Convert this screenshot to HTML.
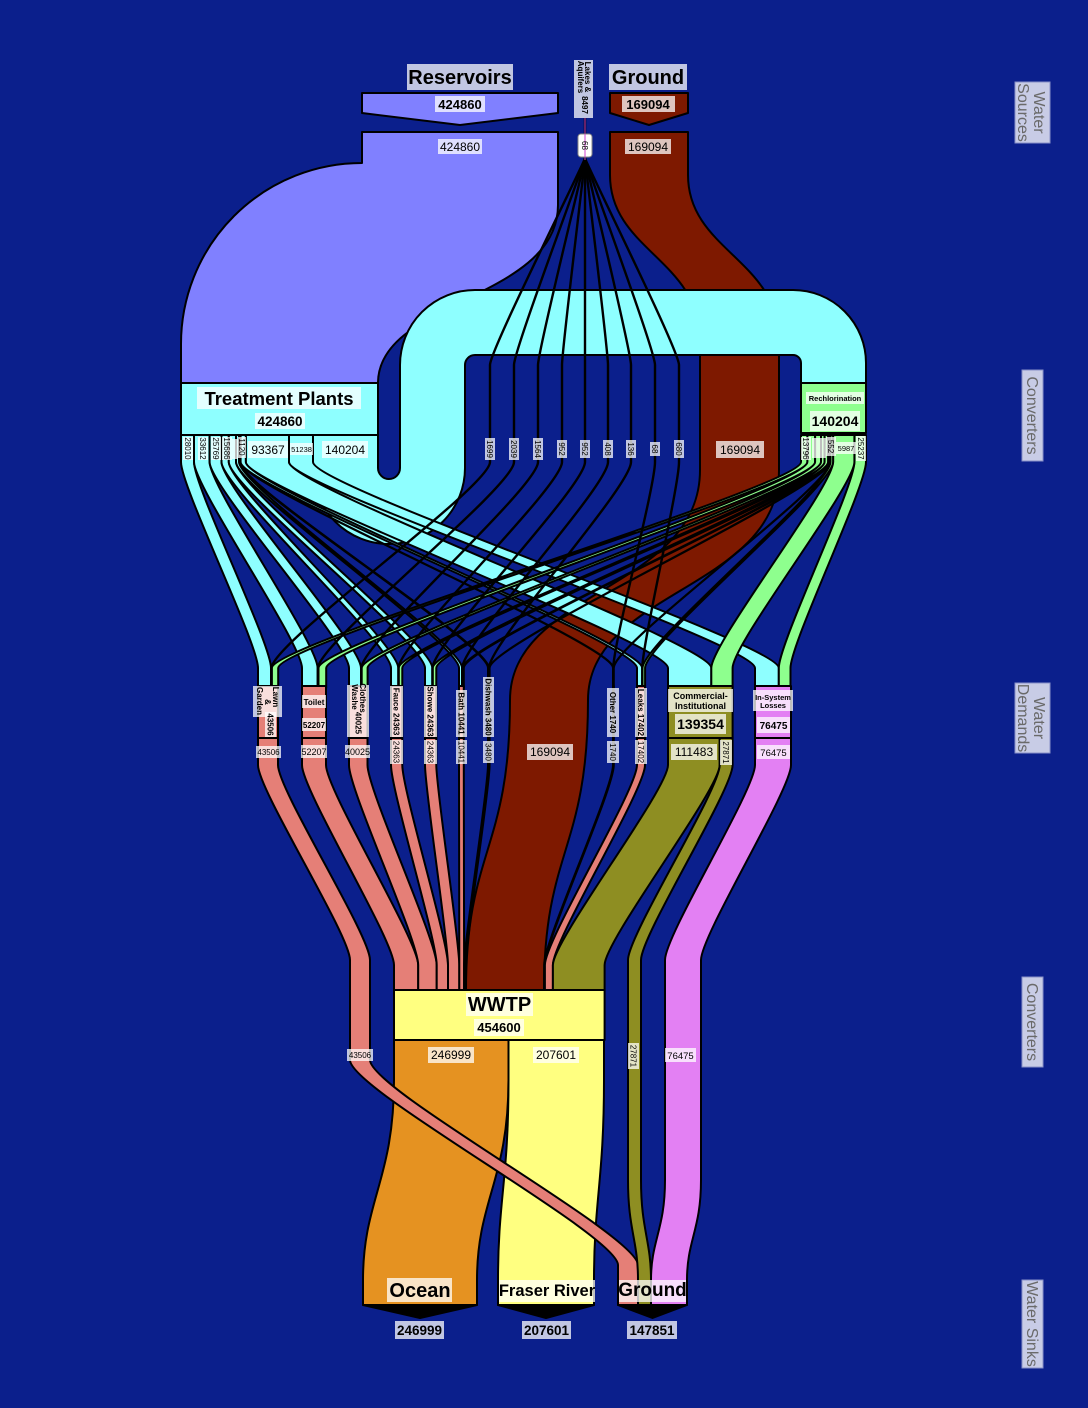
<!DOCTYPE html>
<html><head><meta charset="utf-8"><style>
html,body{margin:0;padding:0;background:#0b1f8c;}
svg{display:block;}
text{font-family:"Liberation Sans",Arial,sans-serif;}
.b{font-weight:bold;}
.lb{fill:#fff;fill-opacity:.75;stroke:none;}
.r{font-size:8px;text-anchor:middle;}
.ax{fill:#c8cce6;stroke:#8890c8;stroke-width:1;}
.axt{fill:#6a6a6a;font-size:16px;text-anchor:middle;}
</style></head><body>
<svg width="1088" height="1408" viewBox="0 0 1088 1408" xmlns="http://www.w3.org/2000/svg">
<rect width="1088" height="1408" fill="#0b1f8c"/>

<g stroke="#000" stroke-width="2" stroke-linejoin="round">
 <path fill="#8080ff" d="M362,132 H558 V205 C558,300 378,300 378,383 H181 V344 A181,181 0 0 1 362,163 Z"/>
 <path fill="#7e1900" d="M610,132 V175 C610,250 700,260 700,340 V470 C700,590 510,590 510,700 C510,850 466,850 466,990 H544 C544,850 588,850 588,700 C588,590 779,590 779,470 V340 C779,260 688,250 688,175 V132 Z"/>
 <path fill="#8effff" d="M313,435 V468 A76,76 0 0 0 465,468 V365 A10,10 0 0 1 475,355 H793 A8,8 0 0 1 801,363 V383 H866 V363 A73,73 0 0 0 793,290 H475 A75,75 0 0 0 400,365 V468 A11,11 0 0 1 378,468 V435 Z"/>

 <g fill="#8effff">
 <path d="M245.8,435 V462 C245.8,487 668,643 668,668 V688 H711.3 V668 C711.3,643 289,487 289,462 V435 Z"/>
 <path d="M289,435 V462 C289,487 755,643 755,668 V688 H778.8 V668 C778.8,643 313,487 313,462 V435 Z"/>
 <path d="M181,435 V462 C181,487 258,643 258,668 V688 H271 V668 C271,643 194,487 194,462 V435 Z"/>
 <path d="M194,435 V462 C194,487 302,643 302,668 V688 H317.6 V668 C317.6,643 209.6,487 209.6,462 V435 Z"/>
 <path d="M209.6,435 V462 C209.6,487 349,643 349,668 V688 H361 V668 C361,643 221.5,487 221.5,462 V435 Z"/>
 <path d="M221.5,435 V462 C221.5,487 391,643 391,668 V688 H398.3 V668 C398.3,643 228.8,487 228.8,462 V435 Z"/>
 <path d="M228.8,435 V462 C228.8,487 425,643 425,668 V688 H432.3 V668 C432.3,643 236,487 236,462 V435 Z"/>
 <path d="M236,435 V462 C236,487 459,643 459,668 V688 H462.1 V668 C462.1,643 239.1,487 239.1,462 V435 Z"/>
 <path d="M239.1,435 V462 C239.1,487 488,643 488,668 V688 H489 V668 C489,643 240.1,487 240.1,462 V435 Z"/>
 <path d="M240.1,435 V462 C240.1,487 613,643 613,668 V688 H613.5 V668 C613.5,643 240.6,487 240.6,462 V435 Z"/>
 <path d="M240.6,435 V462 C240.6,487 637,643 637,668 V688 H642.2 V668 C642.2,643 245.8,487 245.8,462 V435 Z"/>
 </g>

 <g fill="#8eff8e">
 <path d="M854.4,435 V462 C854.4,487 778.8,643 778.8,668 V688 H790.5 V668 C790.5,643 866,487 866,462 V435 Z"/>
 <path d="M833.1,435 V462 C833.1,487 711.3,643 711.3,668 V688 H732.6 V668 C732.6,643 854.4,487 854.4,462 V435 Z"/>
 <path d="M801,435 V462 C801,487 271.8,643 271.8,668 V688 H278.2 V668 C278.2,643 807.4,487 807.4,462 V435 Z"/>
 <path d="M807.4,435 V462 C807.4,487 318.5,643 318.5,668 V688 H326.2 V668 C326.2,643 815.1,487 815.1,462 V435 Z"/>
 <path d="M815.1,435 V462 C815.1,487 361.7,643 361.7,668 V688 H367.6 V668 C367.6,643 821,487 821,462 V435 Z"/>
 <path d="M821,435 V462 C821,487 398.7,643 398.7,668 V688 H402.3 V668 C402.3,643 824.6,487 824.6,462 V435 Z"/>
 <path d="M824.6,435 V462 C824.6,487 432.7,643 432.7,668 V688 H436.3 V668 C436.3,643 828.2,487 828.2,462 V435 Z"/>
 <path d="M828.2,435 V462 C828.2,487 462.3,643 462.3,668 V688 H463.8 V668 C463.8,643 829.7,487 829.7,462 V435 Z"/>
 <path d="M829.7,435 V462 C829.7,487 489.1,643 489.1,668 V688 H489.6 V668 C489.6,643 830.2,487 830.2,462 V435 Z"/>
 <path d="M830.2,435 V462 C830.2,487 613.5,643 613.5,668 V688 H613.8 V668 C613.8,643 830.5,487 830.5,462 V435 Z"/>
 <path d="M830.5,435 V462 C830.5,487 642.5,643 642.5,668 V688 H645.1 V668 C645.1,643 833.1,487 833.1,462 V435 Z"/>
 </g>
</g>

<g fill="none" stroke="#000" stroke-width="2.4" stroke-linejoin="round">
 <path d="M585,158 C585,162 490,350 490,365 V462 C490,487 271.5,643 271.5,668 V688"/>
 <path d="M585,158 C585,162 514,350 514,365 V462 C514,487 318,643 318,668 V688"/>
 <path d="M585,158 C585,162 538,350 538,365 V462 C538,487 361.3,643 361.3,668 V688"/>
 <path d="M585,158 C585,162 562,350 562,365 V462 C562,487 398.5,643 398.5,668 V688"/>
 <path d="M585,158 V462 C585,487 432.5,643 432.5,668 V688"/>
 <path d="M585,158 C585,162 608,350 608,365 V462 C608,487 462.2,643 462.2,668 V688"/>
 <path d="M585,158 C585,162 631,350 631,365 V462 C631,487 489,643 489,668 V688"/>
 <path d="M585,158 C585,162 655,350 655,365 V462 C655,487 613.3,643 613.3,668 V688"/>
 <path d="M585,158 C585,162 679,350 679,365 V462 C679,487 642.3,643 642.3,668 V688"/>
 <path d="M585,118 V160"/>
</g>
<path d="M585,118 V160" stroke="#d040d0" stroke-width="1"/>

<g stroke="#000" stroke-width="2" stroke-linejoin="round">
 <path fill="#e59221" d="M394,1040 V1080 C394,1180 363,1200 363,1280 V1305 H477 V1280 C477,1200 508.5,1180 508.5,1080 V1040 Z"/>
 <path fill="#ffff80" d="M508.5,1040 V1080 C508.5,1180 498,1200 498,1280 V1305 H594 V1280 C594,1200 604,1180 604,1080 V1040 Z"/>
 <g fill="#e57f77">
 <path d="M302,738 V765 C302,790 394,940 394,965 V990 H418.2 V965 C418.2,940 326,790 326,765 V738 Z"/>
 <path d="M349,738 V765 C349,790 418.2,940 418.2,965 V990 H436.7 V965 C436.7,940 367.5,790 367.5,765 V738 Z"/>
 <path d="M391,738 V765 C391,790 436.7,940 436.7,965 V990 H448 V965 C448,940 402.3,790 402.3,765 V738 Z"/>
 <path d="M425,738 V765 C425,790 448,940 448,965 V990 H459.3 V965 C459.3,940 436.3,790 436.3,765 V738 Z"/>
 <path d="M459,738 V765 C459,790 459.3,940 459.3,965 V990 H464.1 V965 C464.1,940 463.8,790 463.8,765 V738 Z"/>
 <path d="M488,738 V765 C488,790 464.1,940 464.1,965 V990 H465.7 V965 C465.7,940 489.6,790 489.6,765 V738 Z"/>
 <path d="M613,738 V765 C613,790 544.1,940 544.1,965 V990 H544.9 V965 C544.9,940 613.8,790 613.8,765 V738 Z"/>
 <path d="M637,738 V765 C637,790 544.9,940 544.9,965 V990 H552.9 V965 C552.9,940 645,790 645,765 V738 Z"/>
 <path d="M258,738 V765 C258,790 350,935 350,960 V1060 C350,1090 618,1235 618,1265 V1305 H638 V1265 C638,1235 370,1090 370,1060 V960 C370,935 278,790 278,765 V738 Z"/>
 </g>
 <path fill="#8e8e22" d="M668,738 V765 C668,790 552.9,940 552.9,965 V990 H604.6 V965 C604.6,940 719.7,790 719.7,765 V738 Z"/>
 <path fill="#8e8e22" d="M719.7,738 V765 C719.7,790 628,935 628,960 V1180 C628,1230 638,1240 638,1280 V1305 H651 V1280 C651,1240 641,1230 641,1180 V960 C641,935 732.6,790 732.6,765 V738 Z"/>
 <path fill="#e380f3" d="M755,738 V765 C755,790 665,935 665,960 V1180 C665,1230 651,1240 651,1280 V1305 H687 V1280 C687,1240 701,1230 701,1180 V960 C701,935 791,790 791,765 V738 Z"/>
</g>

<g stroke="#000" stroke-width="2" stroke-linejoin="round">
 <path fill="#8080ff" d="M362,93 H558 V113 L460,125 L362,113 Z"/>
 <path fill="#7e1900" d="M610,93 H688 V113 L649,125 L610,113 Z"/>
 <rect x="181" y="383" width="197" height="52" fill="#8effff"/>
 <rect x="801" y="383" width="65" height="50" fill="#8eff8e"/>
 <rect x="258" y="686" width="20" height="52" fill="#e57f77"/>
 <rect x="302" y="686" width="24" height="52" fill="#e57f77"/>
 <rect x="349" y="686" width="18.5" height="52" fill="#e57f77"/>
 <rect x="391" y="686" width="11.3" height="52" fill="#e57f77"/>
 <rect x="425" y="686" width="11.3" height="52" fill="#e57f77"/>
 <rect x="459" y="686" width="4.8" height="52" fill="#e57f77"/>
 <rect x="488" y="686" width="1.6" height="52" fill="#e57f77"/>
 <rect x="613" y="686" width="0.8" height="52" fill="#e57f77"/>
 <rect x="637" y="686" width="8" height="52" fill="#e57f77"/>
 <rect x="668" y="686" width="64.6" height="52" fill="#8e8e22"/>
 <rect x="755" y="686" width="36" height="52" fill="#e380f3"/>
 <rect x="394" y="990" width="210.6" height="50" fill="#ffff80"/>
 <path fill="#000" d="M363,1305 H477 L420,1318 Z"/>
 <path fill="#000" d="M498,1305 H594 L546,1318 Z"/>
 <path fill="#000" d="M618,1305 H687 L652.5,1318 Z"/>
</g>
<rect x="578" y="134" width="14" height="23" rx="3" fill="#fff" stroke="#888" stroke-width="1"/>
<path d="M585,134 V157" stroke="#d040d0" stroke-width="1"/>
<text class="r" transform="translate(585,145.5) rotate(90)" dy=".35em">68</text>

<rect class="lb" x="407" y="64" width="106" height="26"/>
<text class="b" x="460" y="84" font-size="20" text-anchor="middle">Reservoirs</text>
<rect class="lb" x="609" y="64" width="78" height="26"/>
<text class="b" x="648" y="84" font-size="20" text-anchor="middle">Ground</text>
<rect class="lb" x="435" y="96" width="50" height="16"/>
<text class="b" x="460" y="109" font-size="13" text-anchor="middle">424860</text>
<rect class="lb" x="622" y="96" width="53" height="16"/>
<text class="b" x="648" y="109" font-size="13" text-anchor="middle">169094</text>
<rect class="lb" x="438" y="139" width="44" height="15"/>
<text x="460" y="151" font-size="12" text-anchor="middle">424860</text>
<rect class="lb" x="625" y="139" width="46" height="15"/>
<text x="648" y="151" font-size="12" text-anchor="middle">169094</text>
<rect class="lb" x="574" y="60" width="19" height="58"/>
<text class="r b" transform="translate(585,77) rotate(90)">Lakes &amp;</text>
<text class="r b" transform="translate(578,77) rotate(90)">Aquifers</text>
<text class="r b" transform="translate(582,105) rotate(90)">8497</text>

<rect class="lb" x="197" y="387" width="164" height="22"/>
<text class="b" x="279" y="405" font-size="18.5" text-anchor="middle">Treatment Plants</text>
<rect class="lb" x="255" y="413" width="50" height="16"/>
<text class="b" x="280" y="426" font-size="13.5" text-anchor="middle">424860</text>
<rect class="lb" x="183" y="437" width="10" height="23"/>
<text class="r" transform="translate(188,448.5) rotate(90)" dy=".35em">28010</text>
<rect class="lb" x="198" y="437" width="10" height="23"/>
<text class="r" transform="translate(203,448.5) rotate(90)" dy=".35em">33612</text>
<rect class="lb" x="211" y="437" width="10" height="23"/>
<text class="r" transform="translate(216,448.5) rotate(90)" dy=".35em">25769</text>
<rect class="lb" x="222" y="437" width="10" height="23"/>
<text class="r" transform="translate(227,448.5) rotate(90)" dy=".35em">15686</text>
<rect class="lb" x="232" y="439" width="6" height="20"/>
<rect class="lb" x="238" y="437" width="8" height="21"/>
<text class="r" transform="translate(242,447) rotate(90)" dy=".35em">1120</text>
<rect class="lb" x="248" y="441" width="40" height="17"/>
<text x="268" y="454" font-size="12" text-anchor="middle">93367</text>
<rect class="lb" x="290" y="443" width="23" height="12"/>
<text x="301.5" y="452" font-size="7.5" text-anchor="middle">51238</text>
<rect class="lb" x="322" y="441" width="46" height="17"/>
<text x="345" y="454" font-size="12" text-anchor="middle">140204</text>

<g>
<rect class="lb" x="485" y="438" width="10" height="22"/><text class="r" transform="translate(490,449) rotate(90)" dy=".35em">1699</text>
<rect class="lb" x="509" y="438" width="10" height="22"/><text class="r" transform="translate(514,449) rotate(90)" dy=".35em">2039</text>
<rect class="lb" x="533" y="438" width="10" height="22"/><text class="r" transform="translate(538,449) rotate(90)" dy=".35em">1564</text>
<rect class="lb" x="557" y="440" width="10" height="18"/><text class="r" transform="translate(562,449) rotate(90)" dy=".35em">952</text>
<rect class="lb" x="580" y="440" width="10" height="18"/><text class="r" transform="translate(585,449) rotate(90)" dy=".35em">952</text>
<rect class="lb" x="603" y="440" width="10" height="18"/><text class="r" transform="translate(608,449) rotate(90)" dy=".35em">408</text>
<rect class="lb" x="626" y="440" width="10" height="18"/><text class="r" transform="translate(631,449) rotate(90)" dy=".35em">136</text>
<rect class="lb" x="650" y="442" width="10" height="14"/><text class="r" transform="translate(655,449) rotate(90)" dy=".35em">68</text>
<rect class="lb" x="674" y="440" width="10" height="18"/><text class="r" transform="translate(679,449) rotate(90)" dy=".35em">680</text>
</g>
<rect class="lb" x="716" y="441" width="48" height="17"/>
<text x="740" y="454" font-size="12" text-anchor="middle">169094</text>

<rect class="lb" x="806" y="392" width="58" height="12"/>
<text class="b" x="835" y="401" font-size="7.5" text-anchor="middle">Rechlorination</text>
<rect class="lb" x="810" y="411" width="50" height="20"/>
<text class="b" x="835" y="426" font-size="14" text-anchor="middle">140204</text>
<rect class="lb" x="801" y="437" width="10" height="23"/>
<text class="r" transform="translate(806,448.5) rotate(90)" dy=".35em">13796</text>
<rect class="lb" x="812" y="438" width="14" height="20"/>
<rect class="lb" x="826" y="437" width="10" height="19"/>
<text class="r" transform="translate(831,446.5) rotate(90)" dy=".35em">552</text>
<rect class="lb" x="836" y="442" width="20" height="12"/>
<text x="846" y="451" font-size="7.5" text-anchor="middle">5987</text>
<rect class="lb" x="856" y="436" width="10" height="25"/>
<text class="r" transform="translate(861,448.5) rotate(90)" dy=".35em">25237</text>

<rect class="lb" x="253" y="686" width="29" height="31"/>
<text class="r b" transform="translate(273,697) rotate(90)">Lawn</text>
<text class="r b" transform="translate(265,702) rotate(90)">&amp;</text>
<text class="r b" transform="translate(257,701) rotate(90)">Garden</text>
<rect class="lb" x="265" y="712" width="11" height="25"/>
<text class="r b" transform="translate(270.5,724.5) rotate(90)" dy=".35em">43506</text>
<rect class="lb" x="302" y="695" width="24" height="13"/>
<text class="b" x="314" y="705" font-size="8" text-anchor="middle">Toilet</text>
<rect class="lb" x="302" y="718" width="24" height="13"/>
<text class="b" x="314" y="728" font-size="8" text-anchor="middle">52207</text>
<rect class="lb" x="347" y="685" width="22" height="52"/>
<text class="r b" transform="translate(360,698) rotate(90)">Clothes</text>
<text class="r b" transform="translate(352,697) rotate(90)">Washe</text>
<text class="r b" transform="translate(355.5,723) rotate(90)">40025</text>
<rect class="lb" x="390" y="686" width="13" height="51"/>
<text class="r b" transform="translate(396.5,711.5) rotate(90)" dy=".35em">Fauce 24363</text>
<rect class="lb" x="424" y="686" width="13" height="51"/>
<text class="r b" transform="translate(430.5,711.5) rotate(90)" dy=".35em">Showe 24363</text>
<rect class="lb" x="456" y="690" width="11" height="47"/>
<text class="r b" transform="translate(461.5,713.5) rotate(90)" dy=".35em">Bath 10441</text>
<rect class="lb" x="483" y="677" width="11" height="60"/>
<text class="r b" transform="translate(488.5,707) rotate(90)" dy=".35em">Dishwash 3480</text>
<rect class="lb" x="607" y="688" width="12" height="49"/>
<text class="r b" transform="translate(613,712.5) rotate(90)" dy=".35em">Other 1740</text>
<rect class="lb" x="635" y="688" width="12" height="49"/>
<text class="r b" transform="translate(641,712.5) rotate(90)" dy=".35em">Leaks 17402</text>
<rect class="lb" x="668" y="689" width="65" height="23"/>
<text class="b" x="700.5" y="699" font-size="9" text-anchor="middle">Commercial-</text>
<text class="b" x="700.5" y="709" font-size="9" text-anchor="middle">Institutional</text>
<rect class="lb" x="675" y="714" width="51" height="20"/>
<text class="b" x="700.5" y="729" font-size="14" text-anchor="middle">139354</text>
<rect class="lb" x="753" y="690" width="40" height="21"/>
<text class="b" x="773" y="700" font-size="7.5" text-anchor="middle">In-System</text>
<text class="b" x="773" y="708" font-size="7.5" text-anchor="middle">Losses</text>
<rect class="lb" x="757" y="717" width="33" height="16"/>
<text class="b" x="773.5" y="729" font-size="10" text-anchor="middle">76475</text>

<rect class="lb" x="256" y="746" width="25" height="12"/><text x="268.5" y="755" font-size="8" text-anchor="middle">43506</text>
<rect class="lb" x="301" y="745" width="26" height="13"/><text x="314" y="755" font-size="9" text-anchor="middle">52207</text>
<rect class="lb" x="345" y="745" width="25" height="13"/><text x="357.5" y="755" font-size="9" text-anchor="middle">40025</text>
<rect class="lb" x="390" y="740" width="13" height="24"/><text class="r" transform="translate(396.5,752) rotate(90)" dy=".35em">24363</text>
<rect class="lb" x="424" y="740" width="13" height="24"/><text class="r" transform="translate(430.5,752) rotate(90)" dy=".35em">24363</text>
<rect class="lb" x="456" y="740" width="11" height="24"/><text class="r" transform="translate(461.5,752) rotate(90)" dy=".35em">10441</text>
<rect class="lb" x="483" y="741" width="11" height="22"/><text class="r" transform="translate(488.5,752) rotate(90)" dy=".35em">3480</text>
<rect class="lb" x="527" y="744" width="46" height="16"/><text x="550" y="756" font-size="12" text-anchor="middle">169094</text>
<rect class="lb" x="607" y="741" width="12" height="22"/><text class="r" transform="translate(613,752) rotate(90)" dy=".35em">1740</text>
<rect class="lb" x="635" y="740" width="12" height="24"/><text class="r" transform="translate(641,752) rotate(90)" dy=".35em">17402</text>
<rect class="lb" x="671" y="744" width="46" height="16"/><text x="694" y="756" font-size="12" text-anchor="middle">111483</text>
<rect class="lb" x="720" y="740" width="12" height="25"/><text class="r" transform="translate(726,752.5) rotate(90)" dy=".35em">27871</text>
<rect class="lb" x="757" y="745" width="33" height="14"/><text x="773.5" y="756" font-size="9.5" text-anchor="middle">76475</text>

<rect class="lb" x="466" y="993" width="67" height="23"/>
<text class="b" x="499.5" y="1011" font-size="20" text-anchor="middle">WWTP</text>
<rect class="lb" x="474" y="1019" width="50" height="17"/>
<text class="b" x="499" y="1032" font-size="13" text-anchor="middle">454600</text>
<rect class="lb" x="428" y="1047" width="46" height="16"/><text x="451" y="1059" font-size="12" text-anchor="middle">246999</text>
<rect class="lb" x="533" y="1047" width="46" height="16"/><text x="556" y="1059" font-size="12" text-anchor="middle">207601</text>
<rect class="lb" x="347" y="1049" width="26" height="12"/><text x="360" y="1058" font-size="8" text-anchor="middle">43506</text>
<rect class="lb" x="628" y="1043" width="11" height="26"/><text class="r" transform="translate(633.5,1056) rotate(90)" dy=".35em">27871</text>
<rect class="lb" x="665" y="1048" width="31" height="14"/><text x="680.5" y="1059" font-size="9.5" text-anchor="middle">76475</text>

<rect class="lb" x="387" y="1278" width="65" height="24"/>
<text class="b" x="420" y="1297" font-size="20" text-anchor="middle">Ocean</text>
<rect class="lb" x="499" y="1280" width="96" height="22"/>
<text class="b" x="547" y="1296" font-size="16.5" text-anchor="middle">Fraser River</text>
<rect class="lb" x="619" y="1280" width="67" height="22"/>
<text class="b" x="652.5" y="1296" font-size="19" text-anchor="middle">Ground</text>
<rect class="lb" x="395" y="1321" width="49" height="18"/>
<text class="b" x="419.5" y="1335" font-size="13.5" text-anchor="middle">246999</text>
<rect class="lb" x="522" y="1321" width="49" height="18"/>
<text class="b" x="546.5" y="1335" font-size="13.5" text-anchor="middle">207601</text>
<rect class="lb" x="627" y="1321" width="50" height="18"/>
<text class="b" x="652" y="1335" font-size="13.5" text-anchor="middle">147851</text>

<rect class="ax" x="1015" y="82" width="35" height="61"/>
<text class="axt" transform="translate(1034,112.5) rotate(90)">Water</text>
<text class="axt" transform="translate(1018,112.5) rotate(90)">Sources</text>
<rect class="ax" x="1022" y="370" width="21" height="91"/>
<text class="axt" transform="translate(1027,415.5) rotate(90)" font-size="17">Converters</text>
<rect class="ax" x="1015" y="683" width="35" height="70"/>
<text class="axt" transform="translate(1034,718) rotate(90)">Water</text>
<text class="axt" transform="translate(1018,718) rotate(90)">Demands</text>
<rect class="ax" x="1022" y="977" width="21" height="90"/>
<text class="axt" transform="translate(1027,1022) rotate(90)" font-size="17">Converters</text>
<rect class="ax" x="1022" y="1280" width="21" height="88"/>
<text class="axt" transform="translate(1027,1324) rotate(90)">Water Sinks</text>
</svg>
</body></html>
